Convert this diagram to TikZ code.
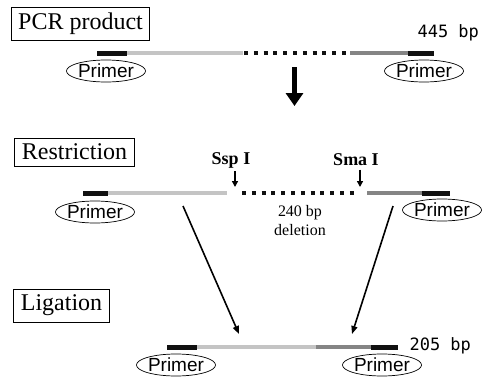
\documentclass[tikz,border=0pt]{standalone}
\usepackage{fontspec}
\setmainfont{Liberation Serif}
\newfontfamily\primerfont{Liberation Sans}
\newfontfamily\sizefont{DejaVu Sans Mono}
\usetikzlibrary{arrows.meta,shapes.geometric}
\definecolor{dnablack}{HTML}{111111}
\definecolor{dnalight}{HTML}{C4C4C4}
\definecolor{dnadark}{HTML}{858585}

\begin{document}
\begin{tikzpicture}[
  x=1pt, y=-1pt,
  stagebox/.style={draw=black, line width=0.8pt, inner xsep=7pt, inner ysep=6pt,
    font=\fontsize{24}{26}\selectfont},
  primer/.style={draw=black, ellipse, line width=0.7pt, minimum width=77pt,
    minimum height=22pt, inner sep=0pt, font=\primerfont\fontsize{19}{20}\selectfont},
  bpsize/.style={font=\sizefont\fontsize{17}{19}\selectfont, anchor=west},
  enzyme/.style={font=\bfseries\fontsize{18}{20}\selectfont},
  endbar/.style={draw=dnablack, line width=5pt},
  leftpart/.style={draw=dnalight, line width=4.5pt},
  rightpart/.style={draw=dnadark, line width=4.5pt},
  deleted/.style={draw=dnablack, line width=4pt, dash pattern=on 4pt off 5.8pt},
  bigstep/.style={draw=black, line width=4.5pt, -{Triangle[length=13pt,width=17pt]}},
  joinarrow/.style={draw=black, line width=1.6pt, -{Triangle[length=8pt,width=6pt]}},
  cutarrow/.style={draw=black, line width=1.4pt, -{Triangle[length=6pt,width=6pt]}},
]
\useasboundingbox (0,0) rectangle (483,383);

% ===== PCR product =====
\node[stagebox] (pcr) at (80.5,24) {PCR product};
\draw[endbar] (97,53) -- (127,53);
\draw[leftpart] (127,53) -- (243,53);
\draw[deleted] (244,53) -- (350,53);
\draw[rightpart] (350,53) -- (408,53);
\draw[endbar] (408,53) -- (434,53);
\node[bpsize] (pcrsize) at (414,33) {445 bp};
\node[primer] (pcrpl) at (106,71) {Primer};
\node[primer] (pcrpr) at (424,71) {Primer};

\coordinate (stepA) at (294.5,67);
\coordinate (stepB) at (294.5,106);
\draw[bigstep] (stepA) -- (stepB);

% ===== Restriction =====
\node[stagebox] (restr) at (74.5,152) {Restriction};
\draw[endbar] (83,193) -- (108,193);
\draw[leftpart] (108,193) -- (227,193);
\draw[deleted] (242,193) -- (355,193);
\draw[rightpart] (367,193) -- (422,193);
\draw[endbar] (422,193) -- (450,193);
\node[primer] (respl) at (95,212) {Primer};
\node[primer] (respr) at (442,210) {Primer};

\node[enzyme] (ssp) at (231,160) {Ssp I};
\node[enzyme] (sma) at (356,160) {Sma I};
\coordinate (sspcut) at (235,187);
\coordinate (smacut) at (360,187);
\draw[cutarrow] (ssp.south -| sspcut) -- (sspcut);
\draw[cutarrow] (sma.south -| smacut) -- (smacut);

\node[align=center, font=\fontsize{16}{19}\selectfont] (gap) at (300,221) {240 bp\\deletion};

% ===== Ligation =====
\node[stagebox] (lig) at (61.5,305.5) {Ligation};
\draw[endbar] (167,347) -- (197,347);
\draw[leftpart] (197,347) -- (316,347);
\draw[rightpart] (316,347) -- (371,347);
\draw[endbar] (371,347) -- (398,347);
\node[bpsize] (ligsize) at (406,346) {205 bp};
\node[primer] (ligpl) at (176,365) {Primer};
\node[primer] (ligpr) at (382,365) {Primer};

\coordinate (leftfrom) at (183,206);
\coordinate (leftto) at (239,334);
\coordinate (rightfrom) at (393,206);
\coordinate (rightto) at (352,334);
\draw[joinarrow] (leftfrom) -- (leftto);
\draw[joinarrow] (rightfrom) -- (rightto);

\end{tikzpicture}
\end{document}
